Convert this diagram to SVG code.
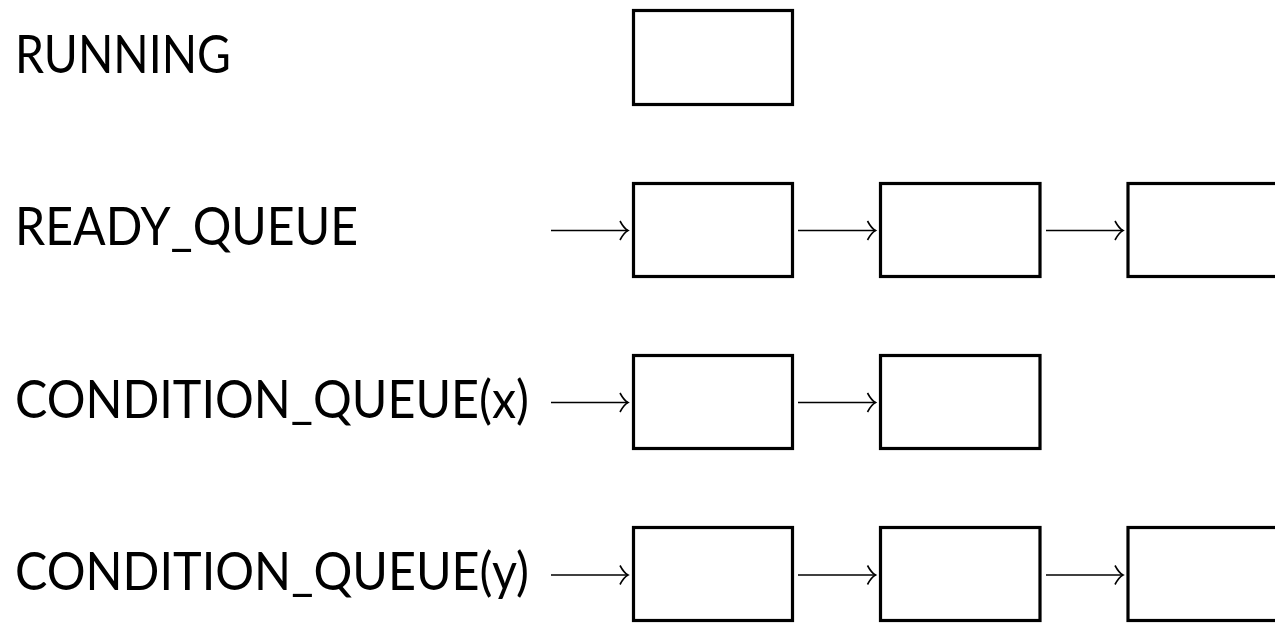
<svg xmlns="http://www.w3.org/2000/svg" width="1275" height="623" viewBox="0 0 1275 623">
<style>
.lbl{font-family:Lato,"Liberation Sans","DejaVu Sans",sans-serif;font-size:52px;fill:#000}
.box{fill:#fff;stroke:#000;stroke-width:3.2}
.arr{fill:none;stroke:#000;stroke-width:1.7;marker-end:url(#ah)}
</style>
<defs>
<marker id="ah" markerUnits="userSpaceOnUse" viewBox="-12 -12 24 24" markerWidth="24" markerHeight="24" refX="0" refY="0" orient="auto" overflow="visible">
<path d="M -8 -9.5 Q -4 -2 0 0 Q -4 2 -8 9.5" fill="none" stroke="#000" stroke-width="1.6"/>
</marker>
</defs>
<rect width="1275" height="623" fill="#fff"/>
<g id="labels">
<text id="t-running" class="lbl" x="15" y="73" textLength="216" lengthAdjust="spacingAndGlyphs">RUNNING</text>
<text id="t-ready" class="lbl" x="15" y="245" textLength="343" lengthAdjust="spacingAndGlyphs">READY_QUEUE</text>
<text id="t-condx" class="lbl" x="15" y="418" textLength="514" lengthAdjust="spacingAndGlyphs">CONDITION_QUEUE(x)</text>
<text id="t-condy" class="lbl" x="15" y="590" textLength="514" lengthAdjust="spacingAndGlyphs">CONDITION_QUEUE(y)</text>
</g>
<g id="n-running"><rect class="box" x="633.5" y="10.5" width="159" height="94"/></g>
<g id="n-ready1"><rect class="box" x="633.5" y="183.5" width="159" height="93"/></g>
<g id="n-ready2"><rect class="box" x="880.5" y="183.5" width="159.5" height="93"/></g>
<g id="n-ready3"><rect class="box" x="1128" y="183.5" width="159.5" height="93"/></g>
<g id="n-condx1"><rect class="box" x="633.5" y="355.5" width="159" height="93"/></g>
<g id="n-condx2"><rect class="box" x="880.5" y="355.5" width="159.5" height="93"/></g>
<g id="n-condy1"><rect class="box" x="633.5" y="527.5" width="159" height="93"/></g>
<g id="n-condy2"><rect class="box" x="880.5" y="527.5" width="159.5" height="93"/></g>
<g id="n-condy3"><rect class="box" x="1128" y="527.5" width="159.5" height="93"/></g>
<g id="connectors">
<line class="arr" x1="551" y1="230.5" x2="628" y2="230.5"/>
<line class="arr" x1="798" y1="230.5" x2="875.5" y2="230.5"/>
<line class="arr" x1="1046" y1="230.5" x2="1123" y2="230.5"/>
<line class="arr" x1="551" y1="402.5" x2="628" y2="402.5"/>
<line class="arr" x1="798" y1="402.5" x2="875.5" y2="402.5"/>
<line class="arr" x1="551" y1="575" x2="628" y2="575"/>
<line class="arr" x1="798" y1="575" x2="875.5" y2="575"/>
<line class="arr" x1="1046" y1="575" x2="1123" y2="575"/>
</g>
</svg>
